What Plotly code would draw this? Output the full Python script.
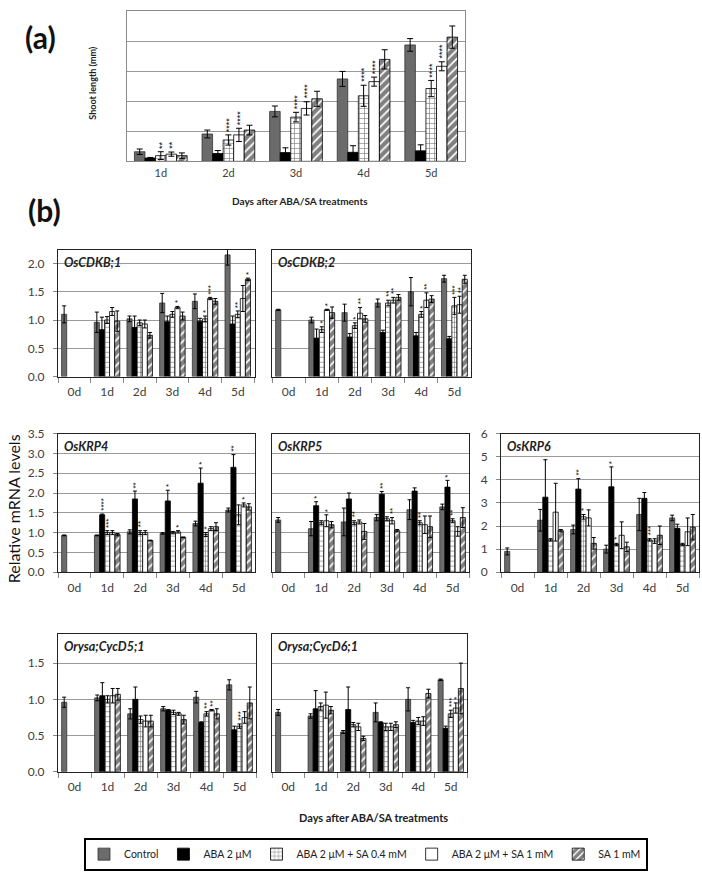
import plotly.graph_objects as go

FIG_W, FIG_H = 702, 881
FONT = "Lato"

series_names = ["Control", "ABA 2 μM", "ABA 2 μM + SA 0.4 mM", "ABA 2 μM + SA 1 mM", "SA 1 mM"]

# ---------------- (a) shoot length ----------------
days_a = ["1d", "2d", "3d", "4d", "5d"]
shoot_control = [0.32, 0.91, 1.66, 2.74, 3.87]
shoot_control_err = [0.09, 0.13, 0.18, 0.25, 0.21]
shoot_aba = [0.11, 0.26, 0.29, 0.30, 0.35]
shoot_aba_err = [0.02, 0.10, 0.16, 0.22, 0.20]
shoot_aba_sa04 = [0.19, 0.71, 1.47, 2.18, 2.42]
shoot_aba_sa04_err = [0.13, 0.17, 0.16, 0.35, 0.27]
shoot_aba_sa1 = [0.24, 0.88, 1.76, 2.65, 3.16]
shoot_aba_sa1_err = [0.07, 0.22, 0.22, 0.15, 0.15]
shoot_sa1 = [0.19, 1.04, 2.08, 3.39, 4.13]
shoot_sa1_err = [0.09, 0.16, 0.25, 0.32, 0.37]
shoot_stars = [("1d", 2, "**"), ("1d", 3, "**"), ("2d", 2, "****"), ("2d", 3, "****"),
               ("3d", 2, "****"), ("3d", 3, "****"), ("4d", 2, "****"), ("4d", 3, "****"),
               ("5d", 2, "****"), ("5d", 3, "****")]

# ---------------- (b) relative mRNA levels ----------------
days_b = ["0d", "1d", "2d", "3d", "4d", "5d"]

cdkb1_control = [1.10, 0.96, 1.02, 1.30, 1.33, 2.15]
cdkb1_control_err = [0.15, 0.18, 0.05, 0.17, 0.13, 0.18]
cdkb1_aba = [None, 0.83, 0.87, 0.97, 0.98, 0.93]
cdkb1_aba_err = [0, 0.22, 0.20, 0.10, 0.05, 0.14]
cdkb1_aba_sa04 = [None, 1.00, 0.95, 1.10, 1.02, 1.10]
cdkb1_aba_sa04_err = [0, 0.06, 0.05, 0.05, 0.05, 0.06]
cdkb1_aba_sa1 = [None, 1.15, 0.93, 1.22, 1.38, 1.38]
cdkb1_aba_sa1_err = [0, 0.07, 0.07, 0.02, 0.02, 0.23]
cdkb1_sa1 = [None, 0.98, 0.73, 1.07, 1.33, 1.72]
cdkb1_sa1_err = [0, 0.18, 0.05, 0.07, 0.05, 0.02]
cdkb1_stars = [("3d", 3, "*"), ("4d", 2, "*"), ("4d", 3, "***"), ("5d", 2, "**"), ("5d", 4, "*")]

cdkb2_control = [1.18, 1.00, 1.13, 1.30, 1.50, 1.73]
cdkb2_control_err = [0.01, 0.05, 0.15, 0.07, 0.25, 0.06]
cdkb2_aba = [None, 0.68, 0.70, 0.78, 0.72, 0.67]
cdkb2_aba_err = [0, 0.16, 0.06, 0.04, 0.06, 0.04]
cdkb2_aba_sa04 = [None, 0.83, 0.90, 1.30, 1.10, 1.25]
cdkb2_aba_sa04_err = [0, 0.05, 0.05, 0.05, 0.05, 0.15]
cdkb2_aba_sa1 = [None, 1.18, 1.12, 1.35, 1.35, 1.27]
cdkb2_aba_sa1_err = [0, 0.01, 0.10, 0.05, 0.13, 0.15]
cdkb2_sa1 = [None, 1.13, 1.02, 1.40, 1.37, 1.72]
cdkb2_sa1_err = [0, 0.10, 0.06, 0.05, 0.06, 0.07]
cdkb2_stars = [("1d", 2, "*"), ("1d", 3, "*"), ("2d", 2, "*"), ("2d", 3, "**"), ("3d", 2, "**"),
               ("3d", 3, "**"), ("4d", 2, "*"), ("4d", 3, "**"), ("5d", 2, "***"), ("5d", 3, "**")]

krp4_control = [0.93, 0.93, 1.02, 0.98, 1.23, 1.57]
krp4_control_err = [0.01, 0.01, 0.05, 0.02, 0.06, 0.05]
krp4_aba = [None, 1.45, 1.85, 1.80, 2.25, 2.65]
krp4_aba_err = [0, 0.02, 0.20, 0.27, 0.38, 0.32]
krp4_aba_sa04 = [None, 1.00, 1.00, 1.00, 0.95, 1.45]
krp4_aba_sa04_err = [0, 0.05, 0.05, 0.03, 0.05, 0.25]
krp4_aba_sa1 = [None, 1.00, 1.00, 1.02, 1.10, 1.70]
krp4_aba_sa1_err = [0, 0.05, 0.05, 0.03, 0.05, 0.05]
krp4_sa1 = [None, 0.95, 0.80, 0.88, 1.15, 1.65]
krp4_sa1_err = [0, 0.03, 0.01, 0.01, 0.10, 0.08]
krp4_stars = [("1d", 1, "****"), ("1d", 2, "***"), ("2d", 1, "**"), ("2d", 2, "**"), ("3d", 1, "*"),
              ("3d", 3, "*"), ("4d", 1, "*"), ("4d", 2, "*"), ("5d", 1, "**"), ("5d", 3, "*")]

krp5_control = [1.32, 1.10, 1.27, 1.38, 1.58, 1.65]
krp5_control_err = [0.06, 0.18, 0.35, 0.08, 0.25, 0.07]
krp5_aba = [None, 1.68, 1.85, 1.97, 2.05, 2.15]
krp5_aba_err = [0, 0.10, 0.15, 0.07, 0.08, 0.17]
krp5_aba_sa04 = [None, 1.25, 1.25, 1.35, 1.25, 1.30]
krp5_aba_sa04_err = [0, 0.05, 0.05, 0.05, 0.05, 0.05]
krp5_aba_sa1 = [None, 1.30, 1.27, 1.30, 1.20, 1.03]
krp5_aba_sa1_err = [0, 0.15, 0.05, 0.08, 0.22, 0.12]
krp5_sa1 = [None, 1.20, 1.03, 1.05, 1.15, 1.38]
krp5_sa1_err = [0, 0.08, 0.20, 0.03, 0.27, 0.25]
krp5_stars = [("1d", 1, "*"), ("1d", 3, "*"), ("2d", 2, "**"), ("3d", 1, "**"), ("3d", 3, "**"),
              ("4d", 2, "**"), ("5d", 1, "*"), ("5d", 2, "**")]

krp6_control = [0.90, 2.25, 1.85, 1.00, 2.50, 2.35]
krp6_control_err = [0.15, 0.47, 0.19, 0.17, 0.70, 0.12]
krp6_aba = [None, 3.25, 3.60, 3.70, 3.20, 1.90]
krp6_aba_err = [0, 1.62, 0.45, 0.86, 0.25, 0.18]
krp6_aba_sa04 = [None, 1.40, 2.40, 1.20, 1.40, 1.20]
krp6_aba_sa04_err = [0, 0.05, 0.10, 0.05, 0.05, 0.05]
krp6_aba_sa1 = [None, 2.60, 2.35, 1.60, 1.35, 1.75]
krp6_aba_sa1_err = [0, 1.25, 0.35, 0.58, 0.10, 0.60]
krp6_sa1 = [None, 1.80, 1.25, 1.10, 1.60, 1.95]
krp6_sa1_err = [0, 0.05, 0.25, 0.20, 0.40, 0.55]
krp6_stars = [("2d", 1, "**"), ("2d", 2, "*"), ("3d", 1, "*"), ("3d", 2, "*"), ("4d", 2, "***")]

cycd5_control = [0.96, 1.02, 0.80, 0.87, 1.03, 1.20]
cycd5_control_err = [0.07, 0.04, 0.07, 0.03, 0.08, 0.07]
cycd5_aba = [None, 1.05, 1.00, 0.85, 0.68, 0.58]
cycd5_aba_err = [0, 0.18, 0.17, 0.01, 0.01, 0.05]
cycd5_aba_sa04 = [None, 1.00, 0.72, 0.82, 0.80, 0.63]
cycd5_aba_sa04_err = [0, 0.05, 0.05, 0.03, 0.03, 0.03]
cycd5_aba_sa1 = [None, 1.05, 0.70, 0.80, 0.85, 0.75]
cycd5_aba_sa1_err = [0, 0.10, 0.08, 0.02, 0.01, 0.08]
cycd5_sa1 = [None, 1.07, 0.70, 0.72, 0.80, 0.95]
cycd5_sa1_err = [0, 0.08, 0.08, 0.06, 0.07, 0.22]
cycd5_stars = [("4d", 2, "**"), ("4d", 3, "**"), ("5d", 2, "***")]

cycd6_control = [0.82, 0.77, 0.55, 0.82, 1.00, 1.27]
cycd6_control_err = [0.04, 0.03, 0.02, 0.13, 0.16, 0.01]
cycd6_aba = [None, 0.87, 0.86, 0.68, 0.68, 0.60]
cycd6_aba_err = [0, 0.25, 0.31, 0.01, 0.03, 0.03]
cycd6_aba_sa04 = [None, 0.90, 0.65, 0.62, 0.70, 0.80]
cycd6_aba_sa04_err = [0, 0.05, 0.03, 0.05, 0.05, 0.05]
cycd6_aba_sa1 = [None, 0.92, 0.62, 0.62, 0.70, 0.88]
cycd6_aba_sa1_err = [0, 0.18, 0.05, 0.05, 0.06, 0.07]
cycd6_sa1 = [None, 0.85, 0.46, 0.65, 1.08, 1.15]
cycd6_sa1_err = [0, 0.05, 0.03, 0.04, 0.06, 0.35]
cycd6_stars = [("5d", 2, "***"), ("5d", 3, "*")]

# ---------------- styling ----------------
BARGAP = 0.22
styles = [
    dict(color="#6b6b6b", line=dict(color="#333333", width=0.8)),
    dict(color="#000000", line=dict(color="#000000", width=0.8)),
    dict(color="#ffffff", line=dict(color="#000000", width=0.8),
         pattern=dict(shape="+", fgcolor="#000000", bgcolor="#ffffff", size=5, solidity=0.25)),
    dict(color="#ffffff", line=dict(color="#000000", width=0.8)),
    dict(color="#ffffff", line=dict(color="#000000", width=0.8),
         pattern=dict(shape="/", fgcolor="#000000", bgcolor="#ffffff", size=6, solidity=0.7)),
]

def px_x(p):
    return p / FIG_W

def px_y(p):
    return 1 - p / FIG_H

panels = [
    dict(days=days_a, x=(127, 465), y=(3, 156), rng=[0, 5], tickvals=[0, 1, 2, 3, 4, 5],
         labels=False, fmt="", title=None,
         data=[(shoot_control, shoot_control_err), (shoot_aba, shoot_aba_err),
               (shoot_aba_sa04, shoot_aba_sa04_err), (shoot_aba_sa1, shoot_aba_sa1_err),
               (shoot_sa1, shoot_sa1_err)], stars=shoot_stars, legend=True, border="#8a8a8a"),
    dict(days=days_b, x=(58, 255), y=(246, 375), rng=[0, 2.24], tickvals=[0, 0.5, 1.0, 1.5, 2.0],
         labels=True, fmt=".1f", title="OsCDKB;1",
         data=[(cdkb1_control, cdkb1_control_err), (cdkb1_aba, cdkb1_aba_err),
               (cdkb1_aba_sa04, cdkb1_aba_sa04_err), (cdkb1_aba_sa1, cdkb1_aba_sa1_err),
               (cdkb1_sa1, cdkb1_sa1_err)], stars=cdkb1_stars, legend=False, border="#222222"),
    dict(days=days_b, x=(272, 471), y=(246, 375), rng=[0, 2.24], tickvals=[0, 0.5, 1.0, 1.5, 2.0],
         labels=False, fmt=".1f", title="OsCDKB;2",
         data=[(cdkb2_control, cdkb2_control_err), (cdkb2_aba, cdkb2_aba_err),
               (cdkb2_aba_sa04, cdkb2_aba_sa04_err), (cdkb2_aba_sa1, cdkb2_aba_sa1_err),
               (cdkb2_sa1, cdkb2_sa1_err)], stars=cdkb2_stars, legend=False, border="#222222"),
    dict(days=days_b, x=(58, 255), y=(433, 574), rng=[0, 3.5],
         tickvals=[0, 0.5, 1.0, 1.5, 2.0, 2.5, 3.0, 3.5],
         labels=True, fmt=".1f", title="OsKRP4",
         data=[(krp4_control, krp4_control_err), (krp4_aba, krp4_aba_err),
               (krp4_aba_sa04, krp4_aba_sa04_err), (krp4_aba_sa1, krp4_aba_sa1_err),
               (krp4_sa1, krp4_sa1_err)], stars=krp4_stars, legend=False, border="#222222"),
    dict(days=days_b, x=(272, 469), y=(433, 574), rng=[0, 3.5],
         tickvals=[0, 0.5, 1.0, 1.5, 2.0, 2.5, 3.0, 3.5],
         labels=False, fmt=".1f", title="OsKRP5",
         data=[(krp5_control, krp5_control_err), (krp5_aba, krp5_aba_err),
               (krp5_aba_sa04, krp5_aba_sa04_err), (krp5_aba_sa1, krp5_aba_sa1_err),
               (krp5_sa1, krp5_sa1_err)], stars=krp5_stars, legend=False, border="#222222"),
    dict(days=days_b, x=(501, 699), y=(433, 574), rng=[0, 6], tickvals=[0, 1, 2, 3, 4, 5, 6],
         labels=True, fmt="d", title="OsKRP6",
         data=[(krp6_control, krp6_control_err), (krp6_aba, krp6_aba_err),
               (krp6_aba_sa04, krp6_aba_sa04_err), (krp6_aba_sa1, krp6_aba_sa1_err),
               (krp6_sa1, krp6_sa1_err)], stars=krp6_stars, legend=False, border="#222222"),
    dict(days=days_b, x=(58, 256), y=(637, 777), rng=[0, 1.9], tickvals=[0, 0.5, 1.0, 1.5],
         labels=True, fmt=".1f", title="Orysa;CycD5;1",
         data=[(cycd5_control, cycd5_control_err), (cycd5_aba, cycd5_aba_err),
               (cycd5_aba_sa04, cycd5_aba_sa04_err), (cycd5_aba_sa1, cycd5_aba_sa1_err),
               (cycd5_sa1, cycd5_sa1_err)], stars=cycd5_stars, legend=False, border="#222222"),
    dict(days=days_b, x=(272, 467), y=(637, 777), rng=[0, 1.9], tickvals=[0, 0.5, 1.0, 1.5],
         labels=False, fmt=".1f", title="Orysa;CycD6;1",
         data=[(cycd6_control, cycd6_control_err), (cycd6_aba, cycd6_aba_err),
               (cycd6_aba_sa04, cycd6_aba_sa04_err), (cycd6_aba_sa1, cycd6_aba_sa1_err),
               (cycd6_sa1, cycd6_sa1_err)], stars=cycd6_stars, legend=False, border="#222222"),
]

fig = go.Figure()
layout = {}
annotations = []

for k, p in enumerate(panels):
    suffix = "" if k == 0 else str(k + 1)
    xa, ya = "x" + suffix, "y" + suffix
    is_a = k == 0
    for i, (vals, errs) in enumerate(p["data"]):
        fig.add_trace(go.Bar(
            x=p["days"], y=vals, name=series_names[i], xaxis=xa, yaxis=ya,
            marker=styles[i], showlegend=p["legend"], legendgroup=series_names[i],
            error_y=dict(type="data", array=errs, color="#000000", thickness=1, width=2 if not is_a else 3),
        ))
    layout["xaxis" + suffix] = dict(
        domain=[px_x(p["x"][0]), px_x(p["x"][1])], anchor=ya, type="category",
        showline=True, mirror=True, linecolor=p["border"], linewidth=1,
        ticks="" if is_a else "outside", ticklen=5, tickcolor="#888888",
        tickson="boundaries", showgrid=False,
        tickfont=dict(family=FONT, size=11 if is_a else 12, color="#404040"),
        ticklabelstandoff=1 if is_a else 4, fixedrange=True,
    )
    layout["yaxis" + suffix] = dict(
        domain=[px_y(p["y"][1]), px_y(p["y"][0])], anchor=xa, range=p["rng"],
        tickvals=p["tickvals"], tickformat=p["fmt"], showticklabels=p["labels"],
        showline=True, mirror=True, linecolor=p["border"], linewidth=1,
        showgrid=True, gridcolor="#9a9a9a", gridwidth=1, zeroline=False,
        ticks="outside" if p["labels"] else "", ticklen=4, tickcolor="#888888",
        tickfont=dict(family=FONT, size=12, color="#404040"), ticklabelstandoff=6,
        fixedrange=True,
    )
    # bar geometry for star placement
    cw = (p["x"][1] - p["x"][0]) / len(p["days"])
    bw = cw * (1 - BARGAP) / 5
    for day, si, txt in p["stars"]:
        di = p["days"].index(day)
        top = p["data"][si][0][di] + p["data"][si][1][di]
        annotations.append(dict(
            x=day, y=top, xref=xa, yref=ya, text=txt, showarrow=False,
            xshift=(si - 2) * bw + 0.5, yshift=1, yanchor="bottom", xanchor="center",
            textangle=-90, font=dict(family="Liberation Sans", size=8 if not is_a else 9, color="#000000"),
        ))
    if p["title"]:
        annotations.append(dict(
            x=px_x(p["x"][0] + 4), y=px_y(p["y"][0] + 3), xref="paper", yref="paper",
            text="<b><i>%s</i></b>" % p["title"], showarrow=False, xanchor="left", yanchor="top",
            font=dict(family=FONT, size=12.5, color="#222222"),
        ))

def text_ann(txt, x, y, size, bold=True, angle=0, color="#222222"):
    annotations.append(dict(
        x=px_x(x), y=px_y(y), xref="paper", yref="paper",
        text=("<b>%s</b>" % txt) if bold else txt, showarrow=False,
        xanchor="center", yanchor="middle", textangle=angle,
        font=dict(family=FONT, size=size, color=color),
    ))

text_ann("(a)", 40, 30, 30, color="#111111")
text_ann("(b)", 45, 206, 30, color="#111111")
text_ann("Shoot length (mm)", 93, 76, 9, angle=-90)
text_ann("Days after ABA/SA treatments", 300, 196, 10)
text_ann("Days after ABA/SA treatments", 373, 824, 11)
text_ann("Relative mRNA levels", 13, 510, 16, bold=False, angle=-90, color="#111111")

layout.update(
    width=FIG_W, height=FIG_H, margin=dict(l=0, r=0, t=0, b=0),
    paper_bgcolor="white", plot_bgcolor="white",
    barmode="group", bargap=BARGAP, bargroupgap=0,
    font=dict(family=FONT, color="#222222"),
    annotations=annotations,
    legend=dict(orientation="h", x=px_x(84), y=px_y(844), xanchor="left", yanchor="top",
                bordercolor="#000000", borderwidth=2, bgcolor="white",
                font=dict(family=FONT, size=10.5, color="#222222"), itemwidth=30,
                tracegroupgap=0),
)
fig.update_layout(layout)
fig.write_html(
    "out.html",
    config={"displayModeBar": False},
    post_script="document.body.style.margin='0';document.body.style.padding='0';"
                "document.documentElement.style.overflow='hidden';",
)
